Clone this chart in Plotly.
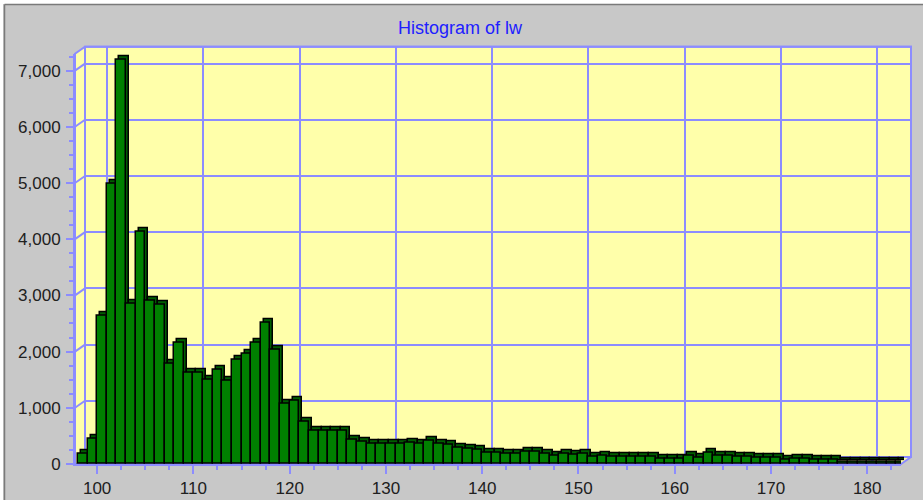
import plotly.graph_objects as go

# histogram of lw: one bin per unit, bins start at 98
BIN_START = list(range(98, 184))
COUNTS = [
    180, 450, 2640, 4990, 7190, 2850, 4130, 2910, 2840, 1790,   # 98-107
    2160, 1630, 1620, 1500, 1670, 1480, 1860, 1960, 2160, 2520,  # 108-117
    2040, 1080, 1120, 750, 600, 600, 600, 600, 440, 390,         # 118-127
    360, 360, 370, 370, 380, 360, 410, 360, 350, 290,            # 128-137
    280, 250, 210, 210, 180, 180, 215, 215, 175, 150,            # 138-147
    190, 160, 190, 130, 150, 130, 130, 130, 130, 130,            # 148-157
    100, 100, 100, 150, 110, 200, 140, 140, 130, 130,            # 158-167
    120, 120, 110, 80, 90, 100, 70, 70, 70, 45,                  # 168-177
    45, 40, 40, 40, 40, 40,                                      # 178-183
]
X_TICKS = [100, 110, 120, 130, 140, 150, 160, 170, 180]
Y_TICKS = [0, 1000, 2000, 3000, 4000, 5000, 6000, 7000]
X_RANGE = [97.7, 183.5]
Y_RANGE = [0, 7300]

W, H = 923, 500
FONT = "Liberation Sans, Arial, sans-serif"
GRID = "#8C8CFF"
YELLOW = "#FFFFAA"
PANEL = "#C8C8C8"

# front plane in pixels, back wall / bar caps are shifted copies
FX0, FX1, FY0, FY1 = 75, 901, 464, 53.7
WALL_DX, WALL_DY = 10, 7
CAP_DX, CAP_DY = 3, 3.5


def xdom(dx=0):
    return [(FX0 + dx) / W, (FX1 + dx) / W]


def ydom(dy=0):
    return [1 - (FY0 - dy) / H, 1 - (FY1 - dy) / H]


def px(x):
    return x / W


def py(y):
    return 1 - y / H


centers = [b + 0.5 for b in BIN_START]

fig = go.Figure()
# empty trace so the back wall axes get drawn
fig.add_trace(go.Scatter(x=[], y=[], xaxis="x", yaxis="y", showlegend=False))
fig.add_trace(go.Bar(
    x=centers, y=COUNTS, width=1, xaxis="x2", yaxis="y2",
    marker=dict(color="#005E00", line=dict(color="black", width=1.5)),
    showlegend=False, hoverinfo="skip",
))
fig.add_trace(go.Bar(
    x=centers, y=COUNTS, width=1, xaxis="x3", yaxis="y3",
    marker=dict(color="#008000", line=dict(color="black", width=1.5)),
    showlegend=False,
))

hidden = dict(showgrid=False, zeroline=False, showticklabels=False, ticks="", showline=False,
              automargin=False)
tickfont = dict(family=FONT, size=17, color="#202020")

# yellow box: front-left edge, back wall, front-bottom edge
wl, wr = FX0 + WALL_DX, FX1 + WALL_DX
wt, wb = FY1 - WALL_DY, FY0 - WALL_DY
path = (f"M{px(FX0)},{py(FY0)} L{px(FX0)},{py(FY1)} L{px(wl)},{py(wt)} "
        f"L{px(wr)},{py(wt)} L{px(wr)},{py(wb)} L{px(FX1)},{py(FY0)} Z")
shapes = [
    dict(type="rect", xref="paper", yref="paper", x0=0, x1=1, y0=py(4), y1=1,
         fillcolor="white", line_width=0, layer="below"),
    dict(type="rect", xref="paper", yref="paper", x0=0, x1=px(3), y0=0, y1=1,
         fillcolor="white", line_width=0, layer="below"),
    dict(type="line", xref="paper", yref="paper", x0=px(4.5), x1=1, y0=py(4.5), y1=py(4.5),
         line=dict(color="#7A7A7A", width=1.5), layer="below"),
    dict(type="line", xref="paper", yref="paper", x0=px(4.5), x1=px(4.5), y0=0, y1=py(4.5),
         line=dict(color="#7A7A7A", width=1.5), layer="below"),
    dict(type="path", path=path, xref="paper", yref="paper", fillcolor=YELLOW,
         line=dict(color=GRID, width=2), layer="below"),
    dict(type="rect", xref="paper", yref="paper", x0=px(wl), x1=px(wr), y0=py(wb), y1=py(wt),
         line=dict(color=GRID, width=2), layer="below"),
]
# side wall diagonals at the major y ticks
for v in Y_TICKS[1:]:
    shapes.append(dict(type="line", xref="paper", yref="y3", ysizemode="pixel", yanchor=v,
                       x0=px(FX0), x1=px(wl), y0=0, y1=WALL_DY,
                       line=dict(color=GRID, width=2), layer="below"))
# floor diagonals at the major x ticks
for v in X_TICKS:
    shapes.append(dict(type="line", yref="paper", xref="x3", xsizemode="pixel", xanchor=v,
                       y0=py(FY0), y1=py(wb), x0=0, x1=WALL_DX,
                       line=dict(color=GRID, width=2), layer="below"))

fig.update_layout(
    width=W, height=H,
    margin=dict(l=0, r=0, t=0, b=0),
    paper_bgcolor=PANEL,
    plot_bgcolor="rgba(0,0,0,0)",
    bargap=0,
    shapes=shapes,
    title=dict(text="Histogram of lw", x=460 / W, y=py(28), xanchor="center", yanchor="middle",
               font=dict(family=FONT, size=18, color="#2020FF")),
    xaxis=dict(domain=xdom(WALL_DX), range=X_RANGE, anchor="y", tick0=0, dtick=10,
               showgrid=True, gridcolor=GRID, gridwidth=2, zeroline=False,
               showticklabels=False, ticks="", showline=False, automargin=False),
    yaxis=dict(domain=ydom(WALL_DY), range=Y_RANGE, anchor="x", tick0=0, dtick=1000,
               showgrid=True, gridcolor=GRID, gridwidth=2, zeroline=False,
               showticklabels=False, ticks="", showline=False, automargin=False),
    xaxis2=dict(domain=xdom(CAP_DX), range=X_RANGE, anchor="y2", **hidden),
    yaxis2=dict(domain=ydom(CAP_DY), range=Y_RANGE, anchor="x2", **hidden),
    xaxis3=dict(
        domain=xdom(), range=X_RANGE, anchor="y3", tick0=0, dtick=10, automargin=False,
        showgrid=False, zeroline=False, showline=True, linecolor=GRID, linewidth=2,
        ticks="outside", ticklen=8, tickwidth=2, tickcolor=GRID, tickfont=tickfont,
        ticklabelstandoff=0,
        minor=dict(dtick=2.5, ticks="outside", ticklen=4, tickwidth=2, tickcolor=GRID, showgrid=False),
    ),
    yaxis3=dict(
        domain=ydom(), range=Y_RANGE, anchor="x3", tick0=0, dtick=1000, tickformat=",",
        automargin=False,
        showgrid=False, zeroline=False, showline=True, linecolor=GRID, linewidth=2,
        ticks="outside", ticklen=7, tickwidth=2, tickcolor=GRID, tickfont=tickfont,
        ticklabelstandoff=2,
        minor=dict(dtick=250, ticks="outside", ticklen=4, tickwidth=2, tickcolor=GRID, showgrid=False),
    ),
)

# the page body has a default 8px margin; drop it so the figure fills the window
fig.write_html("out.html", post_script="document.body.style.margin='0';",
               config={"displayModeBar": False})
